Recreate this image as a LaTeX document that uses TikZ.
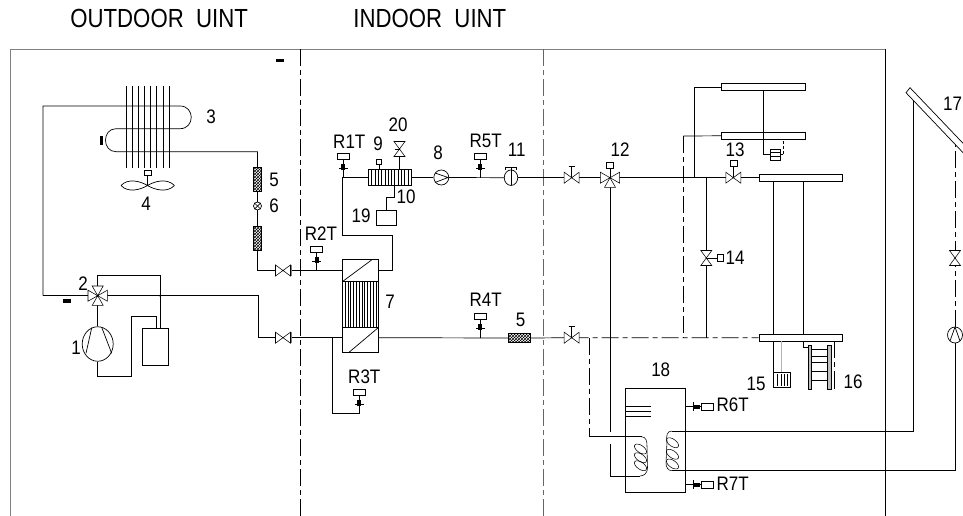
\documentclass[tikz,border=0pt]{standalone}
\usepackage{fontspec}
\setmainfont{Liberation Sans}
\usepackage{tikz}
\usetikzlibrary{shapes.geometric,patterns}

\begin{document}
\begin{tikzpicture}[x=1pt,y=-1pt,line width=0.7pt,
    tag/.style={font=\fontsize{17}{17}\selectfont,inner sep=0pt,yscale=1.15,transform shape},
    title/.style={font=\fontsize{22.2}{22.2}\selectfont,inner sep=0pt,anchor=west,yscale=1.18,transform shape},
    box/.style={rectangle,draw,fill=white,inner sep=0pt},
    filter/.style={rectangle,draw,pattern=crosshatch,inner sep=0pt},
    round/.style={ellipse,draw,fill=white,inner sep=0pt},
    dashdot/.style={dash pattern=on 17pt off 4pt on 5pt off 4pt},
    valve/.pic={\draw[fill=white,line width=0.55pt] (-7.5,-5.5) -- (7.5,5.5) -- (7.5,-5.5) -- (-7.5,5.5) -- cycle;},
    gate/.pic={\draw (0,0) -- (0,-11); \draw (-3,-11) -- (3,-11);
      \draw[fill=white,line width=0.55pt] (-7.5,-5.5) -- (7.5,5.5) -- (7.5,-5.5) -- (-7.5,5.5) -- cycle;},
    motor/.pic={\draw (0,0) -- (0,-11); \draw[fill=white,line width=0.55pt] (-3.5,-17) rectangle (3.5,-11);
      \draw[fill=white,line width=0.55pt] (-7.5,-5.5) -- (7.5,5.5) -- (7.5,-5.5) -- (-7.5,5.5) -- cycle;},
    sensor/.pic={\draw (0,0) -- (0,-18); \draw (-4.5,-9) -- (4.5,-9);
      \fill (-2,-14) rectangle (2,-8);
      \draw[fill=white,line width=0.5pt] (-6,-24.7) rectangle (6,-18);},
    sidesensor/.pic={\draw (0,0) -- (0,-16); \draw (-4.5,-8) -- (4.5,-8);
      \fill (-2,-14) rectangle (2,-8);
      \draw[fill=white,line width=0.5pt] (-3.6,-27.6) rectangle (3.6,-16);},
    wedge/.pic={\draw[fill=white,line width=0.55pt] (0,0) -- (-9.7,-5.5) -- (-9.7,5.5) -- cycle;}]
   \useasboundingbox (0,0) rectangle (963,516);

   \coordinate (V1) at (283,270.5);
   \coordinate (V2) at (283,337.7);
   \coordinate (V3) at (97.7,295.7);
   \coordinate (V4) at (571.7,177.7);
   \coordinate (V5) at (571.7,337.7);
   \coordinate (V6) at (610,177.7);
   \coordinate (V7) at (733.3,177.7);
   \coordinate (V8) at (706.3,258);
   \coordinate (V9) at (955,258);
   \coordinate (V10) at (399.5,149);

   \node[round,minimum width=31,minimum height=34.5] (C1) at (97.7,344) {};
   \node[box,minimum width=26,minimum height=37] (A1) at (155.3,346.8) {};
   \node[filter,minimum width=8.3,minimum height=24.4] (F1) at (257.5,179.5) {};
   \node[round,minimum width=8,minimum height=8] (E1) at (257.5,206) {};
   \node[filter,minimum width=8.3,minimum height=23.6] (F2) at (257.5,238.5) {};
   \node[box,minimum width=36.4,minimum height=93] (H1) at (360.5,305.8) {};
   \node[box,minimum width=42.7,minimum height=16.4] (H2) at (389.7,177.5) {};
   \node[box,minimum width=20,minimum height=15] (B1) at (386.7,217.5) {};
   \node[round,minimum width=15,minimum height=15] (P1) at (441.3,177.5) {};
   \node[round,minimum width=13.5,minimum height=15.5] (P2) at (511,177.7) {};
   \node[filter,minimum width=21.7,minimum height=8.8] (F3) at (519.2,338) {};
   \node[box,minimum width=83.3,minimum height=7] (R1) at (763.3,87.2) {};
   \node[box,minimum width=83.3,minimum height=7] (R2) at (763.3,135.8) {};
   \node[box,minimum width=83.3,minimum height=7] (R3) at (800.6,177.7) {};
   \node[box,minimum width=83.3,minimum height=7] (R4) at (800.6,337.8) {};
   \node[box,minimum width=60.4,minimum height=104] (T1) at (655.5,440) {};
   \node[round,minimum width=15,minimum height=16] (P3) at (955,335) {};

   \coordinate (A) at (43,106);
   \coordinate (B) at (43,295.7);
   \coordinate (D) at (160.3,295.7);
   \coordinate (G) at (392.5,235);
   \coordinate (J) at (342,177.5);
   \coordinate (K) at (694.3,177.7);
   \coordinate (L) at (683.3,136);
   \coordinate (M) at (589.7,436.7);
   \coordinate (N) at (610,431.7);
   \coordinate (O) at (610,444);
   \coordinate (Q) at (640,476);
   \coordinate (S) at (913.3,98);
   \coordinate (U) at (955,145);
   \coordinate (W) at (332.3,337.7);
   \coordinate (X) at (359.3,413.7);
   \coordinate (Y) at (671.7,431);
   \coordinate (Z) at (671.7,470.7);

   \draw[gray,line width=0.9pt] (10,516) -- (10,49) -- (885,49);
   \draw (885,49) -- (885,516);
   \draw[dashdot] (300.5,49) -- (300.5,516);
   \draw[dashdot,gray!80!black] (543.7,49) -- (543.7,516);

   \draw (B) -- (A) -- (180,106) .. controls (195,106) and (195,128.7) .. (180,128.7)
      -- (116,128.7) .. controls (102,128.7) and (102,151.7) .. (116,151.7) -| (F1.north);
   \foreach \x in {126.3,132.3,138.3,144.3,150.3,156.7,163,169.7}
      \draw (\x,86) -- (\x,167.7);
   \draw (F1.south) -- (E1.north);
   \draw (E1.south) -- (F2.north);
   \draw (F2.south) |- (V1);
   \draw (V1) -- (V1 -| H1.west);
   \draw (B) -- (V3);
   \draw (V3) -- (258,295.7) |- (V2);
   \draw (V2) -- (V2 -| H1.west);
   \draw (V3) -- (97.7,275.7) -| (D);
   \draw (D) -- (D |- A1.north);
   \fill (D) circle (1.3pt);
   \draw (V3) -- (C1.north);
   \draw (C1.south) -- (97.7,376) -| (131.7,316.7) -| (156.7,328.3);
   \draw (V1 -| H1.east) -| (G) -| (J);
   \draw (J) -- (H2.west);
   \draw (H2.east) -- (P1.west);
   \draw (P1.east) -- (P2.west);
   \draw (P2.east) -- (V4);
   \draw (V4) -- (V6);
   \draw (V6) -- (V7);
   \draw (V7) -- (R3.west);
   \draw (V10) -- (V10 |- H2.north);
   \draw (394,185.7) |- (386.7,197.3) -- (B1.north);
   \draw (V2 -| H1.east) -- (F3.west);
   \draw (F3.east) -- (V5);
   \draw (W) |- (X) -- (359.3,395);
   \draw[dashdot] (V5) -- (R4.west);
   \draw[dashdot] (589.7,337.7) -- (M);
   \draw (M) -- (641.7,436.7);
   \draw (V6) -- (N);
   \draw (O) |- (Q);
   \draw (K) |- (R1.west);
   \draw (R2.west) -- (L);
   \draw[dashdot] (L) -- (L |- V5);
   \draw (706.3,177.7) -- (V8);
   \draw (V8) -- (706.3,337.7);
   \draw (763.3,90.7) |- (783.3,154.3);
   \draw[densely dashed] (783.3,154.3) -- (783.3,139.3);
   \draw (773.7,181) -- (773.7,334.3);
   \draw (803,181) -- (803,334.3);
   \draw (803,341.3) |- (808.3,347.3);
   \draw (773.7,341.3) -- (773.7,372.7);
   \draw[gray!60] (781.7,341.3) -- (781.7,372.7);
   \draw[dashdot] (834.3,341.3) -- (834.3,388) -- (831,388);

   \draw (Y) -- (913.3,431) -- (S);
   \draw (Z) -- (955,470.7) -- (P3.south);
   \draw[dashdot] (P3.north) -- (V9);
   \draw[dashdot] (V9) -- (U);
   \draw[fill=white] (968,157.9) -- (906,92.7) -- (910,87.7) -- (968,148.5);

   \draw[line width=0.55pt] (Y) .. controls (667,431) and (666,436) .. (667,441)
      -- (666,463) .. controls (666,467) and (668,470.7) .. (Z);
   \foreach \y in {442.7,454.3,464}
      \draw[line width=0.55pt,rotate around={-35:(672.5,\y)}] (672.5,\y) ellipse [x radius=7pt,y radius=3.6pt];
   \draw[line width=0.55pt] (641.7,436.7) .. controls (646,437) and (647,441) .. (647,446)
      -- (647.5,468) .. controls (647.5,473) and (644,476) .. (Q);
   \foreach \y in {449,457.7,465.7}
      \draw[line width=0.55pt,rotate around={-35:(640.5,\y)}] (640.5,\y) ellipse [x radius=7pt,y radius=3.6pt];
   \foreach \y in {406,411,416}
      \draw (625.3,\y) -- (650.7,\y);

   \pic at (V1) {valve};
   \pic at (V2) {valve};
   \draw[gray,line width=1.2pt] (291.3,265) -- (291.3,276);
   \draw[gray,line width=1.2pt] (291.3,332) -- (291.3,343);
   \foreach \a in {0,90,180,270}
      \pic[rotate=\a] at (V3) {wedge};
   \fill (V3) circle (1.2pt);
   \pic at (V4) {gate};
   \pic at (V5) {gate};
   \draw (V6) -- (610,165);
   \draw[fill=white,line width=0.55pt] (606.5,162) rectangle (613.5,168);
   \foreach \a in {0,90,180}
      \pic[rotate=\a] at (V6) {wedge};
   \pic at (V7) {motor};
   \pic[rotate=-90] at (V8) {motor};
   \pic[rotate=90] at (V9) {valve};
   \pic[rotate=90] at (V10) {valve};
   \draw (394.5,149) -- (399.5,149);

   \draw (C1.110) -- (86,353.3);
   \draw (101.7,327.3) -- (111.7,353.3);
   \draw (E1.45) -- (E1.225);
   \draw (E1.135) -- (E1.315);
   \foreach \x in {1,...,12}
      \draw[line width=0.55pt] (342.3+2.8*\x,281.7) -- (342.3+2.8*\x,327.3);
   \draw (342.3,281.7) -- (378.7,281.7);
   \draw (342.3,327.3) -- (378.7,327.3);
   \draw (342.3,281.7) -- (372.5,259.3);
   \draw (349,352.3) -- (378.7,327.3);
   \foreach \x in {1,...,12}
      \draw[line width=0.55pt] (368.3+3.3*\x,169.3) -- (368.3+3.3*\x,185.7);
   \draw (379,169.3) -- (379,164);
   \draw[fill=white,line width=0.5pt] (376.5,159.5) rectangle (381.5,164);
   \draw (435,173) -- (448,177.5) -- (435,182.5);
   \draw (505.7,170) -- (505.7,167.3) -- (516.7,167.3) -- (516.7,170);
   \draw (511,167.3) -- (511,185.3);
   \draw (955,327) -- (950,341);
   \draw (955,327) -- (960,341);

   \draw (121,185.5) .. controls (128,178) and (140,181) .. (147.5,185.5)
      .. controls (140,190) and (128,193) .. (121,185.5);
   \draw (174.5,185.5) .. controls (167,178) and (155,181) .. (147.5,185.5)
      .. controls (155,190) and (167,193) .. (174.5,185.5);
   \draw (147.5,175) -- (147.5,185.5);
   \draw[fill=white,line width=0.5pt] (144.3,170) rectangle (151.5,175);
   \fill (100,135.7) rectangle (103,145);
   \fill (276,59) rectangle (284,62.3);
   \fill (63,299.3) rectangle (71,303);

   \pic at (316.7,270.5) {sensor};
   \pic at (343.3,177.5) {sensor};
   \pic at (480.3,177.5) {sensor};
   \pic at (480.3,337.7) {sensor};
   \pic at (359.3,413.7) {sensor};
   \pic[rotate=-90] at (685.7,406.7) {sidesensor};
   \pic[rotate=-90] at (685.7,484.7) {sidesensor};

   \node[box,minimum width=9.3,minimum height=11] (D1) at (775.3,154.5) {};
   \draw (770.7,152) -- (780,152);
   \draw (770.7,156) -- (780,156);
   \node[box,minimum width=17,minimum height=14.6] (D2) at (782.2,380) {};
   \foreach \x in {777.5,781,784.5,787.5}
      \draw[thick] (\x,374) -- (\x,386);
   \draw[fill=gray!50] (808.3,345) rectangle (811.7,389);
   \draw[fill=gray!50] (827.7,345) rectangle (831,389);
   \foreach \y in {349.3,356,362.7,371.7,380}
      \draw (811.7,\y) -- (827.7,\y);

   \node[title] (T1a) at (70,18.3) {OUTDOOR\ \ UINT};
   \node[title] (T2a) at (353,18.3) {INDOOR\ \ UINT};
   \node[tag] (N1) at (76,348) {1};
   \node[tag] (N2) at (83,284) {2};
   \node[tag] (N3) at (211,117) {3};
   \node[tag] (N4) at (146,204) {4};
   \node[tag] (N5) at (274,180) {5};
   \node[tag] (N6) at (274,206) {6};
   \node[tag] (N7) at (390,302) {7};
   \node[tag] (N8) at (438,153) {8};
   \node[tag] (N9) at (378,144) {9};
   \node[tag] (N10) at (406,197) {10};
   \node[tag] (N11) at (516.7,150) {11};
   \node[tag] (N12) at (620,149.3) {12};
   \node[tag] (N13) at (735,149.3) {13};
   \node[tag] (N14) at (735,257.3) {14};
   \node[tag] (N15) at (756,384) {15};
   \node[tag] (N16) at (853,381.7) {16};
   \node[tag] (N17) at (952.5,104) {17};
   \node[tag] (N18) at (660.7,369.3) {18};
   \node[tag] (N19) at (361,216) {19};
   \node[tag] (N20) at (398,125) {20};
   \node[tag] (N5b) at (520.5,320) {5};
   \node[tag] (S1) at (349.3,141.7) {R1T};
   \node[tag] (S2) at (321,234) {R2T};
   \node[tag] (S3) at (364.3,376.5) {R3T};
   \node[tag] (S4) at (485.7,300) {R4T};
   \node[tag] (S5) at (485.7,141) {R5T};
   \node[tag] (S6) at (732.7,405) {R6T};
   \node[tag] (S7) at (732.7,483.3) {R7T};
\end{tikzpicture}
\end{document}
